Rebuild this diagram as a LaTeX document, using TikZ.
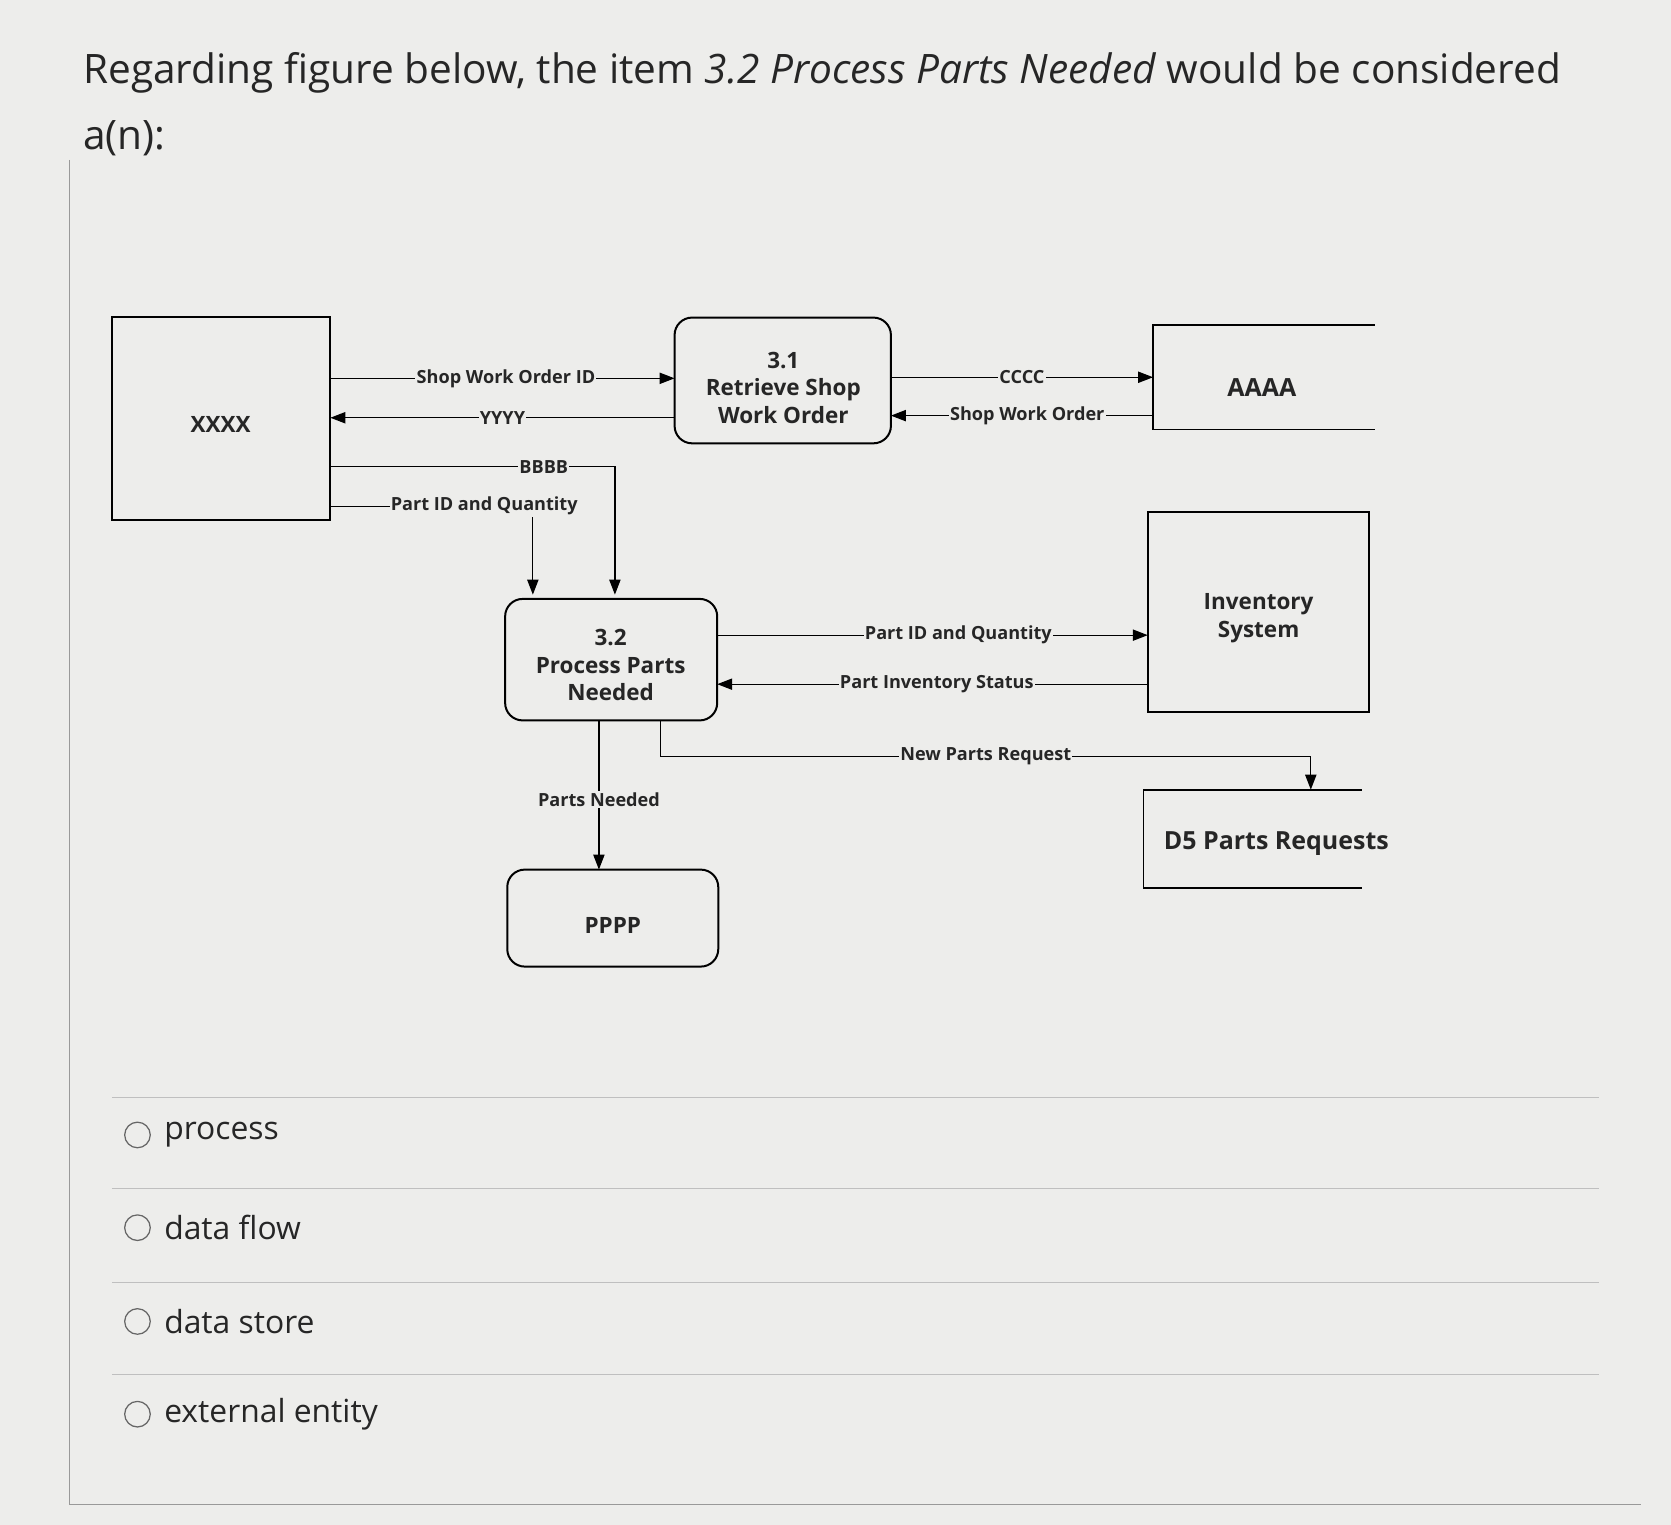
\documentclass[tikz,border=0pt]{standalone}
\usepackage{fontspec}
\setmainfont{Open Sans}
\usetikzlibrary{arrows.meta}
\begin{document}
\begin{tikzpicture}[x=0.03cm,y=-0.03cm,
  box/.style={draw,line width=1.6pt},
  rbox/.style={draw,line width=1.6pt,rounded corners=14pt},
  flow/.style={line width=1pt,-{Triangle[length=12pt,width=9pt]}},
  lab/.style={font=\bfseries\fontsize{14.5}{16}\selectfont,fill=bgc,inner sep=1pt},
  big/.style={font=\bfseries\fontsize{18}{22}\selectfont,align=center},
  opt/.style={font=\fontsize{25.5}{28}\selectfont\color{black!80},anchor=west},
  every node/.style={text=black!85}]
\definecolor{bgc}{HTML}{EDEDEB}
\fill[bgc] (0,0) rectangle (1568,1431);
\useasboundingbox (0,0) rectangle (1568,1431);
\draw[black!40,line width=1pt] (65,150) -- (65,1412) -- (1540,1412);
\node[anchor=west,font=\fontsize{32.5}{35}\selectfont] (t1) at (74,68) {Regarding figure below, the item \textit{3.2 Process Parts Needed} would be considered};
\node[anchor=west,font=\fontsize{32.5}{35}\selectfont] (t2) at (74,130) {a(n):};
% nodes
\draw[box] (105,297) rectangle (310,488);
\node[big] (x) at (207,398) {XXXX};
\draw[rbox] (633,298) rectangle (836,416);
\node[big] (p31) at (735,364) {3.1\\Retrieve Shop\\Work Order};
\draw[line width=1.4pt] (1290,305) -- (1082,305) -- (1082,403) -- (1290,403);
\node[big,font=\bfseries\fontsize{20}{22}\selectfont] (a) at (1184,364) {AAAA};
\draw[box] (1077,480) rectangle (1285,668);
\node[big] (inv) at (1181,580) {Inventory\\System};
\draw[rbox] (474,562) rectangle (673,676);
\node[big] (p32) at (573,624) {3.2\\Process Parts\\Needed};
\draw[line width=1.4pt] (1278,741) -- (1073,741) -- (1073,833) -- (1278,833);
\node[big,font=\bfseries\fontsize{20}{22}\selectfont,anchor=west] (d5) at (1088,792) {D5 Parts Requests};
\draw[rbox] (476,816) rectangle (674,907);
\node[big] (pp) at (575,868) {PPPP};
% flows
\coordinate (c1) at (310,355); \coordinate (c2) at (633,355);
\draw[flow] (c1) -- (c2) node[lab,pos=0.51] {Shop Work Order ID};
\coordinate (c3) at (633,392); \coordinate (c4) at (310,392);
\draw[flow] (c3) -- (c4) node[lab,pos=0.5] {YYYY};
\coordinate (b1) at (310,438); \coordinate (b2) at (577,438); \coordinate (b3) at (577,558);
\draw[flow] (b1) -- (b2) node[lab,pos=0.75] {BBBB} -- (b3);
\coordinate (q1) at (310,475); \coordinate (q2) at (500,475); \coordinate (q3) at (500,558);
\draw[flow] (q1) -- (q2) node[lab,pos=0.76] {Part ID and Quantity} -- (q3);
\coordinate (e1) at (836,354); \coordinate (e2) at (1082,354);
\draw[flow] (e1) -- (e2) node[lab,pos=0.5] {CCCC};
\coordinate (e3) at (1082,390); \coordinate (e4) at (836,390);
\draw[flow] (e3) -- (e4) node[lab,pos=0.48] {Shop Work Order};
\coordinate (f1) at (673,596); \coordinate (f2) at (1077,596);
\draw[flow] (f1) -- (f2) node[lab,pos=0.56] {Part ID and Quantity};
\coordinate (f3) at (1077,642); \coordinate (f4) at (673,642);
\draw[flow] (f3) -- (f4) node[lab,pos=0.49] {Part Inventory Status};
\coordinate (n1) at (620,676); \coordinate (n2) at (620,710); \coordinate (n3) at (1230,710); \coordinate (n4) at (1230,741);
\draw[flow] (n1) -- (n2) -- (n3) node[lab,pos=0.5] {New Parts Request} -- (n4);
\coordinate (m1) at (562,676); \coordinate (m2) at (562,816);
\draw[flow] (m1) -- (m2) node[lab,pos=0.53] {Parts Needed};
% options
\foreach \y in {1030,1115,1203,1290} \draw[black!25,line width=0.8pt] (105,\y) -- (1500,\y);
\foreach \y/\t in {1065/process,1152/data flow,1240/data store,1327/external entity}{
  \draw[black!60,line width=1pt] (129,\y) circle (12);
  \node[opt] at (150,\y) {\t};}
\end{tikzpicture}
\end{document}
